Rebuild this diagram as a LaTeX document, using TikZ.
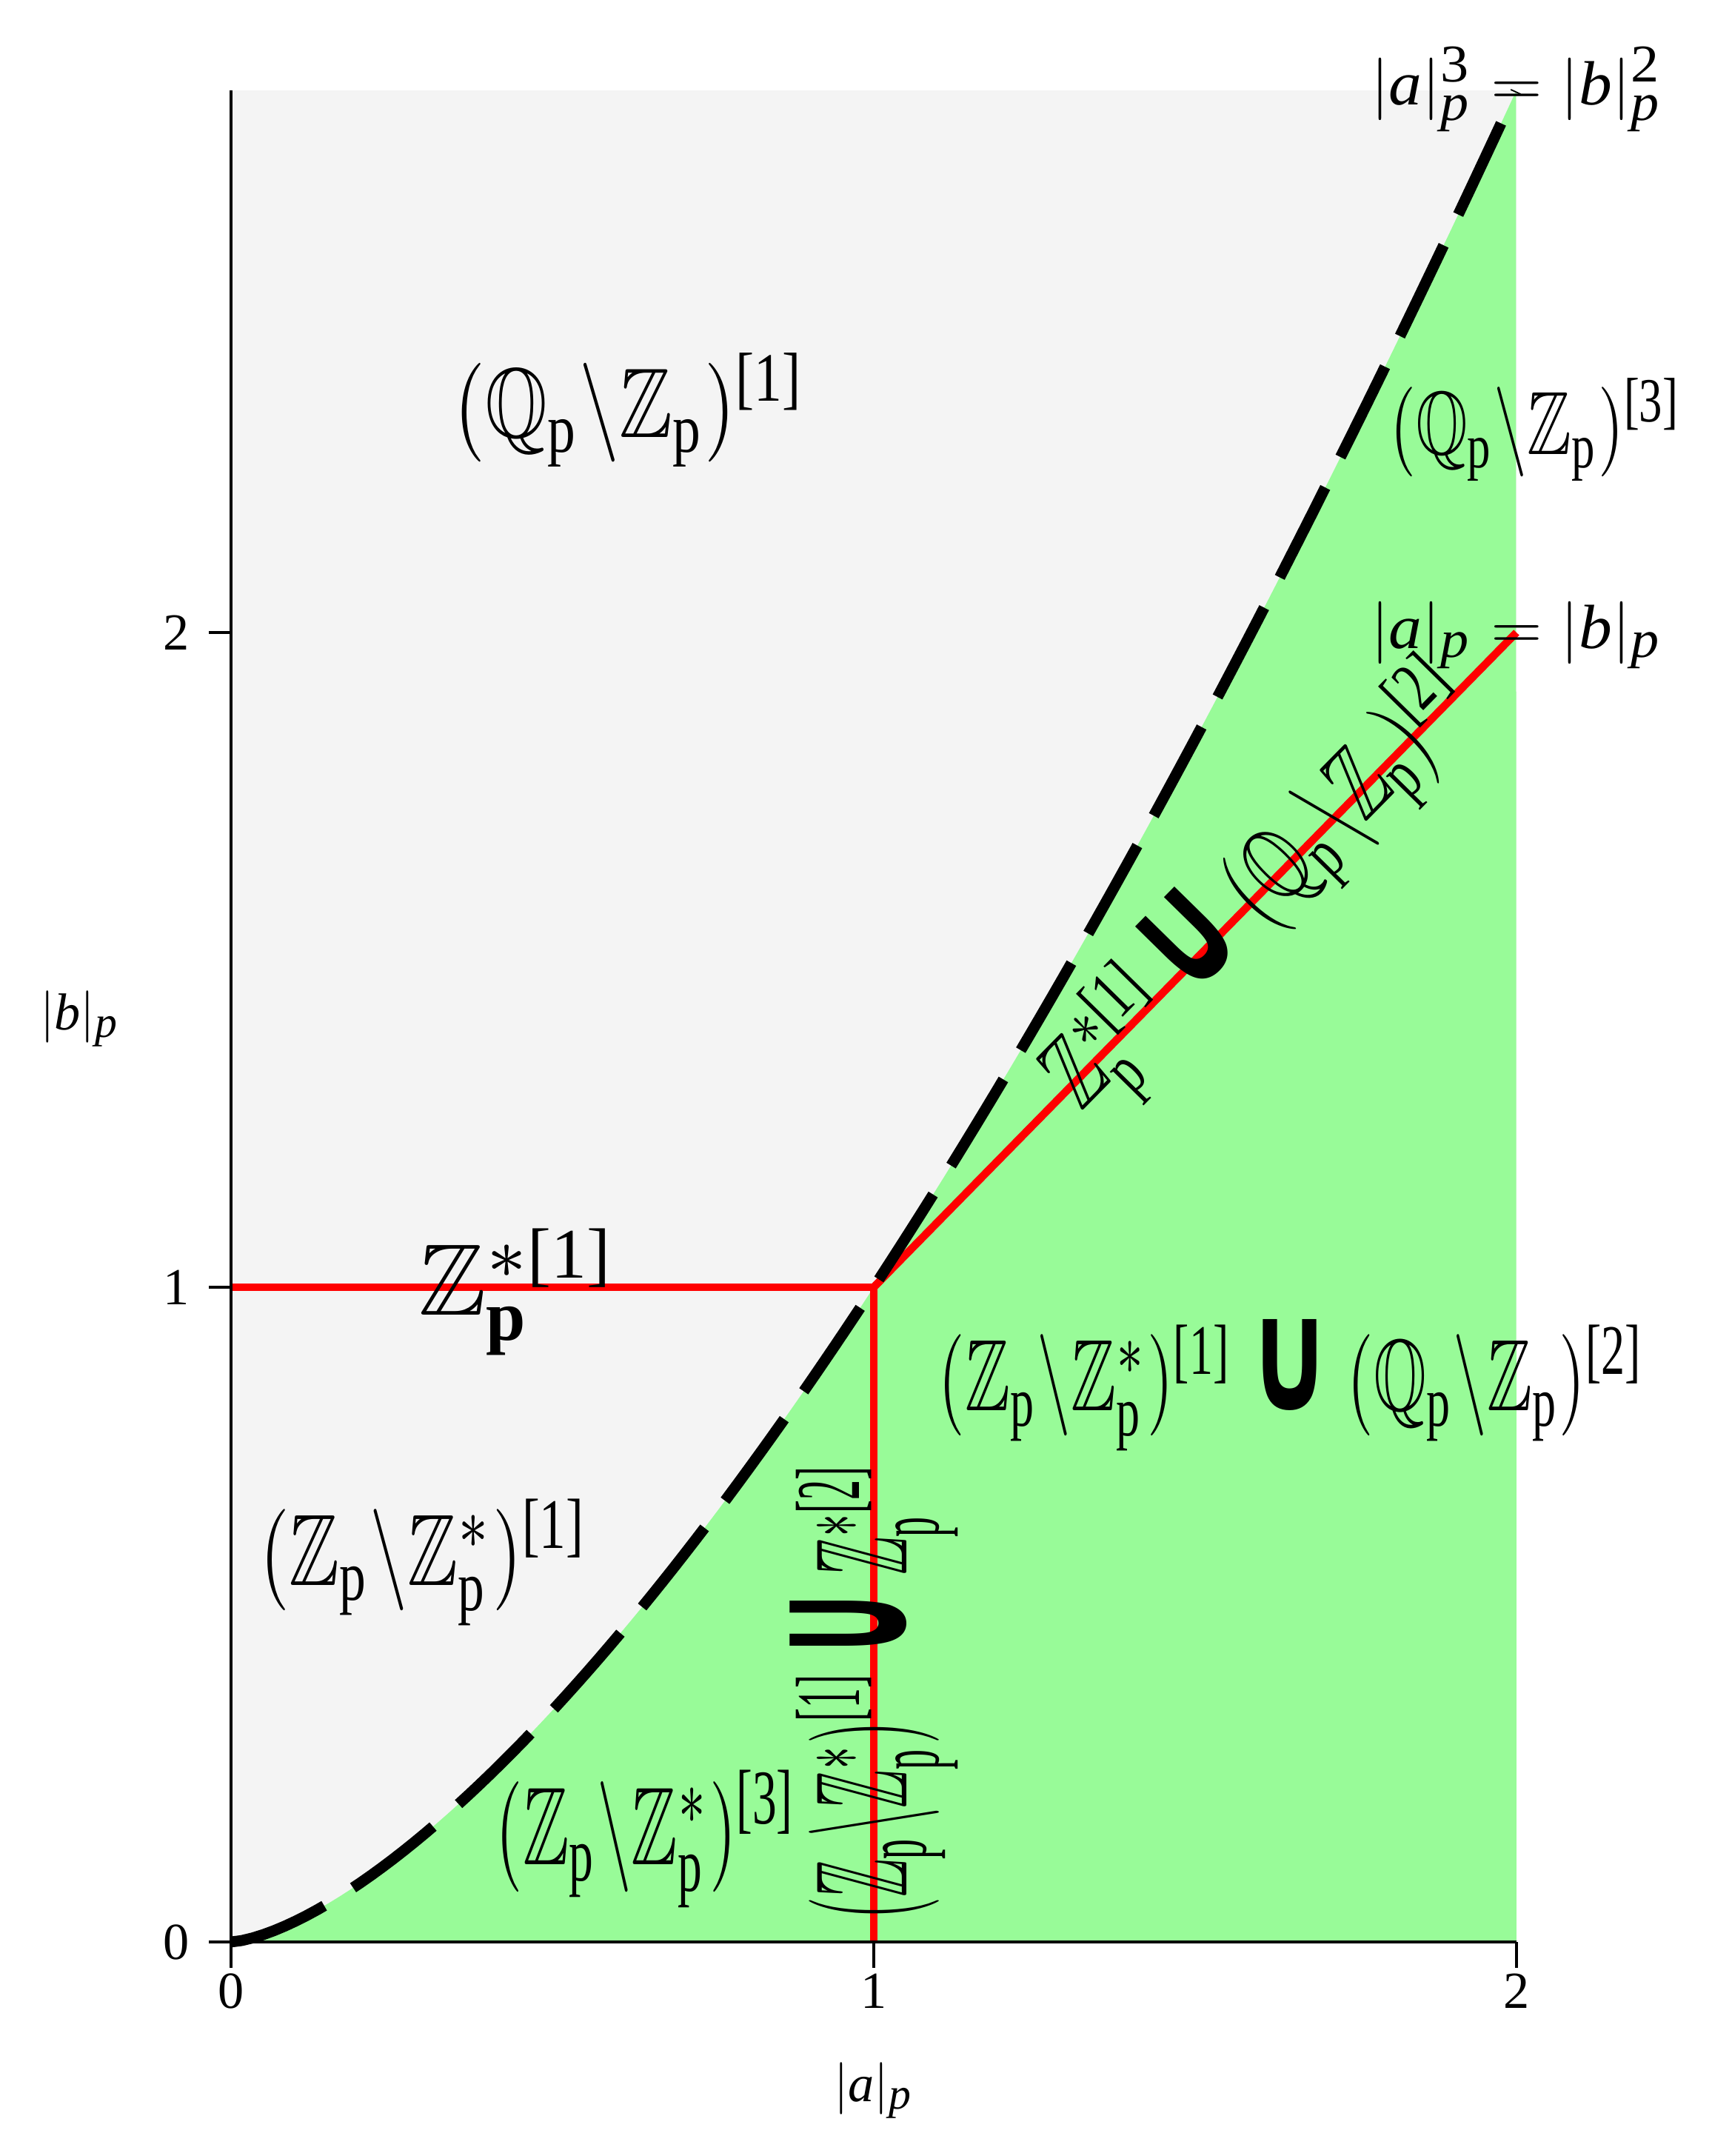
\documentclass[tikz,border=0pt]{standalone}
\usepackage{amsmath,amssymb}
\usepackage{fontspec}
\setmainfont{Liberation Serif}
\newfontfamily\unif{DejaVu Sans}
\definecolor{bggrey}{HTML}{F4F4F4}
\definecolor{pgreen}{HTML}{98FB98}
\newcommand\ZZ{\mathbb{Z}}
\newcommand\QQ{\mathbb{Q}}
\newcommand\pp{\mathrm{p}}
\newcommand\brk[1]{\text{[#1]}}
\newcommand\ti[1]{\textit{#1}}
\newcommand\smi[1]{\text{\fontsize{8.5}{9}\selectfont\itshape #1}}
\newcommand\smu[1]{\text{\fontsize{8.5}{9}\selectfont #1}}
\newcommand\cupU{\mathbin{\text{\fontsize{15.5}{15}\selectfont\unif\bfseries ∪}}}
\begin{document}
\begin{tikzpicture}[x=8.68cm,y=8.84cm,
  axis/.style={line width=1.3pt,black},
  redline/.style={line width=3pt,red},
  curve/.style={line width=4.2pt,black,dash pattern=on 1.36cm off 0.46cm},
  ticklab/.style={font=\fontsize{20}{24}\selectfont,inner sep=0pt},
  axlab/.style={font=\fontsize{10}{12}\selectfont,inner sep=0pt,scale=2.0,transform shape},
  eqlab/.style={font=\fontsize{10}{12}\selectfont,inner sep=0pt,transform shape},
  region/.style={font=\fontsize{10}{12}\selectfont,inner sep=0pt,transform shape}]
\useasboundingbox (-0.3594,-0.3269) rectangle (2.3041,2.9661);
% regions
\fill[bggrey] (0,0) rectangle (2,2.8284);
\fill[pgreen] (0,0) -- plot[domain=0:2,samples=120] (\x,{\x*sqrt(\x)}) -- (2,0) -- cycle;
% coordinates
\coordinate (O) at (0,0);
\coordinate (P11) at (1,1);
\coordinate (Y1) at (0,1);
\coordinate (X1) at (1,0);
\coordinate (P22) at (2,2);
\coordinate (X2) at (2,0);
\coordinate (Ytop) at (0,2.8284);
% red lines
\draw[redline] (Y1) -- (P11);
\draw[redline] (X1) -- (P11);
\draw[redline] (P11) -- (P22);
% dashed curve
\draw[curve] plot[domain=0:2,samples=120] (\x,{\x*sqrt(\x)});
% axes
\draw[axis] (O) -- (Ytop);
\draw[axis] (O) -- (X2);
\foreach \t in {0,1,2}{
  \draw[axis] (\t,0) -- (\t,-0.04);
  \draw[axis] (0,\t) -- (-0.035,\t);
}
\node[ticklab] (tx0) at (0,-0.075) {0};
\node[ticklab] (tx1) at (1,-0.075) {1};
\node[ticklab] (tx2) at (2,-0.075) {2};
\node[ticklab] (ty0) at (-0.085,0) {0};
\node[ticklab] (ty1) at (-0.085,1) {1};
\node[ticklab] (ty2) at (-0.085,2) {2};
\node[axlab] (xl) at (1,-0.227) {$|\ti{a}|_{\smi{p}}$};
\node[axlab] (yl) at (-0.235,1.41) {$|\ti{b}|_{\smi{p}}$};
% curve labels
\node[eqlab,xscale=2.55,yscale=2.4] (eq1) at (2,2.83) {$|\ti{a}|_{\smi{p}}^{\smu{3}}=|\ti{b}|_{\smi{p}}^{\smu{2}}$};
\node[eqlab,xscale=2.55,yscale=2.4] (eq2) at (2,1.996) {$|\ti{a}|_{\smi{p}}=|\ti{b}|_{\smi{p}}$};
% region labels
\node[region,xscale=3.07,yscale=3.8] (rA) at (0.62,2.34) {$(\QQ_{\pp}\backslash\ZZ_{\pp})^{\brk{1}}$};
\node[region,xscale=2.55,yscale=3.45] (rB) at (2.03,2.31) {$(\QQ_{\pp}\backslash\ZZ_{\pp})^{\brk{3}}$};
\node[region,scale=3.9] (rC) at (0.445,0.993) {$\ZZ_{\mathbf{p}}^{*\brk{1}}$};
\node[region,xscale=2.6,yscale=3.9] (rD) at (1.65,0.85) {$(\ZZ_{\pp}\backslash\ZZ_{\pp}^{*})^{\brk{1}}\cupU(\QQ_{\pp}\backslash\ZZ_{\pp})^{\brk{2}}$};
\node[region,xscale=2.9,yscale=3.9] (rE) at (0.30,0.58) {$(\ZZ_{\pp}\backslash\ZZ_{\pp}^{*})^{\brk{1}}$};
\node[region,xscale=2.66,yscale=4.25] (rF) at (0.646,0.157) {$(\ZZ_{\pp}\backslash\ZZ_{\pp}^{*})^{\brk{3}}$};
\node[region,rotate=90,xscale=2.19,yscale=5.0] (rG) at (1,0.382) {$(\ZZ_{\pp}\backslash\ZZ_{\pp}^{*})^{\brk{1}}\cupU\ZZ_{\pp}^{*\brk{2}}$};
\node[region,rotate=45.5,xscale=2.72,yscale=3.9] (rH) at (1.605,1.605) {$\ZZ_{\pp}^{*\brk{1}}\cupU(\QQ_{\pp}\backslash\ZZ_{\pp})^{\brk{2}}$};
\end{tikzpicture}
\end{document}
